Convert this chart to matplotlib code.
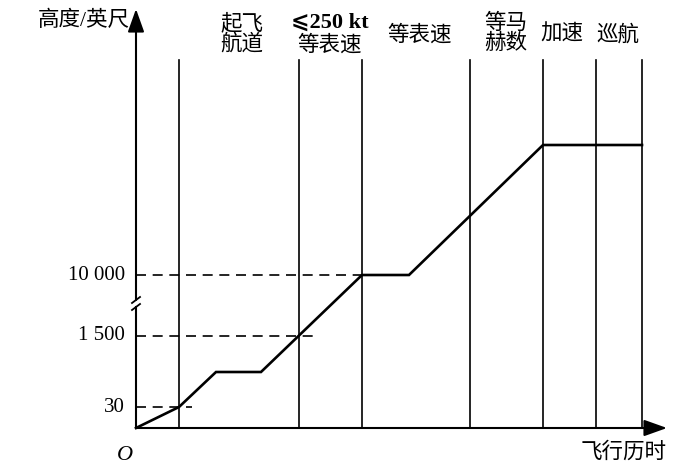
import numpy as np
import matplotlib
matplotlib.use("Agg")
import matplotlib.pyplot as plt

plt.rcParams.update({
    "font.family": ["Liberation Serif", "Noto Sans CJK SC", "DejaVu Sans"],
    "font.size": 15,
})

# flight phases (x in time units from origin, y in plotted altitude units)
phase_bounds = [43, 163, 226, 334, 407, 460, 506]
phase_labels = ["起飞\n航道", "等表速", "等马\n赫数", "加速", "巡航"]
label_x = [106, 284, 370, 426, 482]
label_y = [394, 393, 394, 393, 393]

profile_t = [0, 43, 80, 125, 226, 273, 407, 506]
profile_h = [0, 21, 56, 56, 153, 153, 283, 283]

alt_levels = [21, 92, 153]
alt_labels = ["30", "1 500", "10 000"]
dash_end = [56, 179, 226]

fig = plt.figure(figsize=(7.0, 4.66), dpi=100)
ax = fig.add_axes([0, 0, 1, 1])
ax.set_xlim(-136, 564)
ax.set_ylim(-38, 428)
ax.axis("off")

# axes with arrows (y axis broken between 121 and 128)
arrow_kw = dict(arrowstyle="-|>,head_length=1.4,head_width=0.5", lw=1.5,
                color="black", shrinkA=0, shrinkB=0, mutation_scale=10)
ax.plot([0, 0], [0, 121], color="black", lw=1.5)
ax.annotate("", xy=(0, 419), xytext=(0, 128), arrowprops=arrow_kw)
ax.annotate("", xy=(531, 0), xytext=(0, 0), arrowprops=arrow_kw)

# break marks
for yb in (121, 128):
    ax.plot([-4, 4], [yb - 3, yb + 3], color="black", lw=1.3)

# phase boundaries
for xb in phase_bounds:
    ax.plot([xb, xb], [0, 368], color="black", lw=1.2)

# reference altitudes
for lvl, lab, xe in zip(alt_levels, alt_labels, dash_end):
    ax.plot([0, xe], [lvl, lvl], color="black", lw=1.2, ls=(0, (6, 4)))
    ax.text(-11, lvl, lab, ha="right", va="center", fontsize=15)

# altitude profile
ax.plot(profile_t, profile_h, color="black", lw=1.9, solid_joinstyle="miter")

for lx, ly, lab in zip(label_x, label_y, phase_labels):
    ax.text(lx, ly, lab, ha="center", va="center", fontsize=15.5, linespacing=1.0)

ax.text(194, 405, "⩽250 kt", ha="center", va="center", fontsize=16,
        fontweight="bold", family=["Liberation Serif", "DejaVu Sans"])
ax.text(194, 383, "等表速", ha="center", va="center", fontsize=15.5,
        family=["Noto Sans CJK SC"])

ax.text(-11, -27, "O", ha="center", va="center", fontsize=16, style="italic")
ax.text(-6, 407, "高度/英尺", ha="right", va="center", fontsize=15.5)
ax.text(531, -24, "飞行历时", ha="right", va="center", fontsize=15.5)

fig.savefig("out.png", dpi=100)
